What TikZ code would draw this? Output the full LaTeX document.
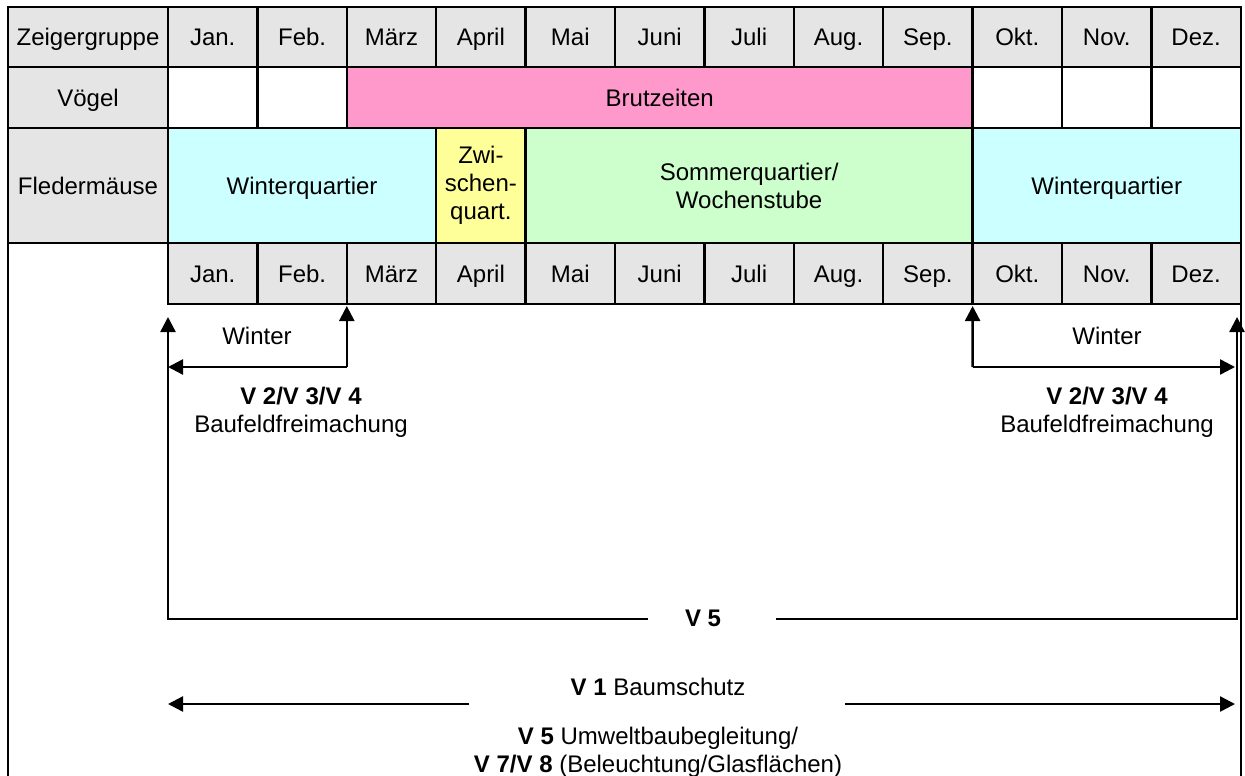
\documentclass[tikz,border=0pt]{standalone}
\usepackage{fontspec}
\setmainfont{Liberation Sans}
\usetikzlibrary{arrows.meta}

\definecolor{kopfgrau}{RGB}{229,229,229}
\definecolor{brutrosa}{RGB}{255,153,204}
\definecolor{wintercyan}{RGB}{204,255,255}
\definecolor{zwischengelb}{RGB}{255,255,153}
\definecolor{sommergruen}{RGB}{204,255,204}

\tikzset{zelle/.style={draw,line width=1.2pt,inner sep=0pt,outer sep=0pt}}
\tikzset{einzeilig/.style={text height=8.6pt,text depth=0pt}}
\tikzset{pfeil/.style={line width=1.2pt,-{Triangle[length=7.5pt,width=7.5pt]}}}

\begin{document}
\begin{tikzpicture}
  [x=0.5pt,y=-0.5pt,
  font=\fontsize{12}{14}\selectfont,
  every node/.style={align=center}]
  \useasboundingbox (0,0) rectangle (1245,775);
  \node[zelle,einzeilig,fill=kopfgrau,minimum width=80pt,minimum height=30pt] (zeiger) at (88,37) {Zeigergruppe};
  \node[zelle,einzeilig,fill=kopfgrau,minimum width=80pt,minimum height=30.5pt] (voegel) at (88,97.5) {Vögel};
  \node[zelle,einzeilig,fill=kopfgrau,minimum width=80pt,minimum height=57.5pt] (fleder) at (88,185.5) {Fledermäuse};
  \foreach \m [count=\i] in {Jan.,Feb.,März,April,Mai,Juni,Juli,Aug.,Sep.,Okt.,Nov.,Dez.} {
    \node[zelle,einzeilig,fill=kopfgrau,minimum width=44.7pt,minimum height=30pt] (kopf\i) at ({123.3+89.4*\i},37) {\m};
    \node[zelle,einzeilig,fill=kopfgrau,minimum width=44.7pt,minimum height=30.5pt] (fuss\i) at ({123.3+89.4*\i},273.5) {\m};
  }
  \foreach \i in {1,2,10,11,12}
    \node[zelle,fill=white,minimum width=44.7pt,minimum height=30.5pt] (vogel\i) at ({123.3+89.4*\i},97.5) {};
  \node[zelle,einzeilig,fill=brutrosa,minimum width=312.9pt,minimum height=30.5pt] (brut) at (659.7,97.5) {Brutzeiten};
  \node[zelle,einzeilig,fill=wintercyan,minimum width=134.1pt,minimum height=57.5pt] (winterA) at (302.1,185.5) {Winterquartier};
  \node[zelle,fill=zwischengelb,minimum width=44.7pt,minimum height=57.5pt] (zwischen) at (480.9,185.5) {Zwi-\\schen-\\quart.};
  \node[zelle,fill=sommergruen,minimum width=223.5pt,minimum height=57.5pt] (sommer) at (749.1,185.5) {Sommerquartier/\\Wochenstube};
  \node[zelle,einzeilig,fill=wintercyan,minimum width=134.1pt,minimum height=57.5pt] (winterB) at (1106.7,185.5) {Winterquartier};
  \draw[line width=1.2pt] (8,776) -- (8,7) -- (1241,7) -- (1241,776);

  \coordinate (knickL) at (346.8,367);
  \coordinate (spitzeL) at (168,367);
  \draw[pfeil] (knickL) -- (spitzeL);
  \draw[pfeil,shorten >=1pt] (knickL) -- (fuss3.south west);
  \node[einzeilig] (winterL) at (257,336) {Winter};
  \node (baufeldL) at (301,412) {\textbf{V 2/V 3/V 4}\\Baufeldfreimachung};

  \coordinate (knickR) at (972.6,367);
  \coordinate (spitzeR) at (1235,367);
  \draw[pfeil] (knickR) -- (spitzeR);
  \draw[pfeil,shorten >=1pt] (knickR) -- (fuss10.south west);
  \node[einzeilig] (winterR) at (1107,336) {Winter};
  \node (baufeldR) at (1107,412) {\textbf{V 2/V 3/V 4}\\Baufeldfreimachung};

  \node[einzeilig] (vfuenf) at (703,618) {\textbf{V 5}};
  \coordinate (endeL) at (648,619);
  \coordinate (eckeL) at (168,619);
  \coordinate (obenL) at (168,317);
  \coordinate (startR) at (776,619);
  \coordinate (eckeR) at (1237,619);
  \coordinate (obenR) at (1237,317);
  \draw[pfeil] (endeL) -- (eckeL) -- (obenL);
  \draw[pfeil] (startR) -- (eckeR) -- (obenR);

  \node[einzeilig] (baum) at (658,687) {\textbf{V 1} Baumschutz};
  \coordinate (baumL) at (469,704);
  \coordinate (baumLspitze) at (168,704);
  \coordinate (baumR) at (845,704);
  \coordinate (baumRspitze) at (1235,704);
  \draw[pfeil] (baumL) -- (baumLspitze);
  \draw[pfeil] (baumR) -- (baumRspitze);
  \node (umwelt) at (658,752) {\textbf{V 5} Umweltbaubegleitung/\\\textbf{V 7/V 8} (Beleuchtung/Glasflächen)};
\end{tikzpicture}
\end{document}
